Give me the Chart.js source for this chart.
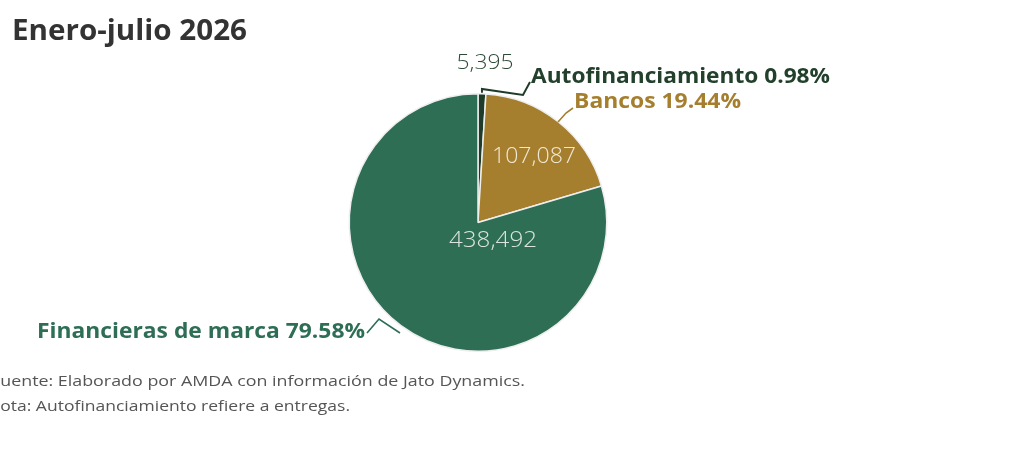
<!DOCTYPE html>
<html><head><meta charset="utf-8">
<script src="https://cdn.jsdelivr.net/npm/chart.js@4.4.1/dist/chart.umd.min.js"></script>
<style>html,body{margin:0;padding:0;background:#fff;overflow:hidden}canvas{display:block}</style>
</head><body>
<canvas id="c" width="1024" height="454"></canvas>
<script>
const categories = ["Autofinanciamiento", "Bancos", "Financieras de marca"];
const values = [5395, 107087, 438492];
const shares = ["0.98%", "19.44%", "79.58%"];
const colors = ["#1f3b29", "#a67f2e", "#2d6e55"];
const title = "Enero-julio 2026";
const footer = ["Fuente: Elaborado por AMDA con información de Jato Dynamics.", "Nota: Autofinanciamiento refiere a entregas."];

const FONT = '"Open Sans", "Noto Sans", sans-serif';
function fitText(ctx, text, x, y, w, font, color, align) {
  ctx.save();
  ctx.font = font; ctx.fillStyle = color; ctx.textBaseline = 'middle'; ctx.textAlign = 'left';
  const m = ctx.measureText(text).width;
  const s = w / m;
  let x0 = x;
  if (align === 'center') x0 = x - w / 2;
  ctx.translate(x0, y); ctx.scale(s, 1);
  ctx.fillText(text, 0, 0);
  ctx.restore();
}
function poly(ctx, pts, color, lw) {
  ctx.save(); ctx.strokeStyle = color; ctx.lineWidth = lw; ctx.lineJoin = 'miter';
  ctx.beginPath(); ctx.moveTo(pts[0][0], pts[0][1]);
  for (let i = 1; i < pts.length; i++) ctx.lineTo(pts[i][0], pts[i][1]);
  ctx.stroke(); ctx.restore();
}
const fmt = v => v.toLocaleString('en-US');

const labelsPlugin = {
  id: 'labels',
  afterDraw(chart) {
    const ctx = chart.ctx;
    const arcs = chart.getDatasetMeta(0).data;
    const a0 = arcs[0];
    const cx = a0.x, cy = a0.y, R = a0.outerRadius;
    // title
    fitText(ctx, title, 12, 32, 235, 'bold 28px ' + FONT, '#333333');
    // value labels
    fitText(ctx, fmt(values[2]), 493, 241, 88, '300 22px ' + FONT, '#dbe4df', 'center');
    fitText(ctx, fmt(values[1]), 534, 157, 84, '300 22px ' + FONT, '#f0e8d6', 'center');
    fitText(ctx, fmt(values[0]), 485, 63, 57, '300 21px ' + FONT, '#2e4a37', 'center');
    // leader lines
    const mid0 = (a0.startAngle + a0.endAngle) / 2;
    const p0 = [cx + R * Math.cos(mid0), cy + R * Math.sin(mid0)];
    poly(ctx, [[p0[0], p0[1] - 1], [p0[0], 89], [523, 95], [530, 82]], colors[0], 2);
    poly(ctx, [[558, 122], [566, 113], [573, 108]], colors[1], 1.6);
    poly(ctx, [[367, 333], [379, 319], [400, 333]], colors[2], 1.6);
    // category labels
    fitText(ctx, categories[0] + ' ' + shares[0], 531, 77, 299, 'bold 22px ' + FONT, '#22402b');
    fitText(ctx, categories[1] + ' ' + shares[1], 574, 102, 167, 'bold 22px ' + FONT, colors[1]);
    fitText(ctx, categories[2] + ' ' + shares[2], 37, 332, 328, 'bold 22px ' + FONT, colors[2]);
    // footer
    fitText(ctx, footer[0], -9, 382, 534, '15px ' + FONT, '#555555');
    fitText(ctx, footer[1], -13, 407, 363, '15px ' + FONT, '#555555');
  }
};

new Chart(document.getElementById('c'), {
  type: 'pie',
  data: {
    labels: categories,
    datasets: [{
      data: values,
      backgroundColor: colors,
      borderColor: '#eeeeee',
      borderWidth: 1.5
    }]
  },
  options: {
    responsive: false,
    animation: false,
    layout: { padding: { top: 93, bottom: 102, left: 300, right: 368 } },
    plugins: { legend: { display: false }, tooltip: { enabled: false } }
  },
  plugins: [labelsPlugin]
});
</script>
</body></html>
